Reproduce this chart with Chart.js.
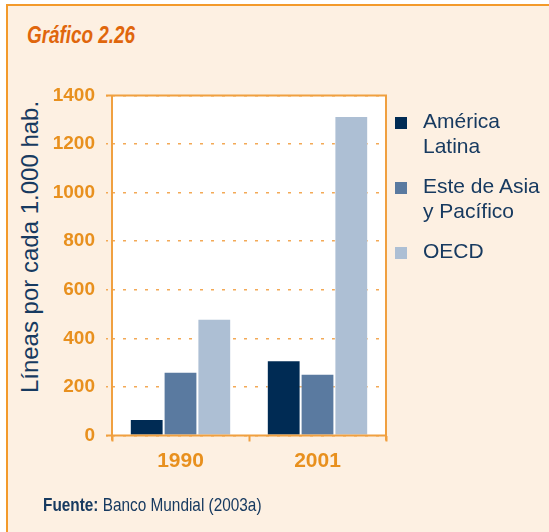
<!DOCTYPE html>
<html>
<head>
<meta charset="utf-8">
<script src="https://cdn.jsdelivr.net/npm/chart.js@4/dist/chart.umd.min.js"></script>
<style>
  html, body { margin: 0; padding: 0; background: #fff; }
  body { width: 549px; height: 532px; position: relative; overflow: hidden; font-family: "Liberation Sans", Arial, sans-serif; }
  #frame { position: absolute; left: 6px; top: 4px; right: 0; bottom: 0; background: #fdf0e2; border-left: 2px solid #f39a2b; border-top: 2px solid #f39a2b; }
  #title { position: absolute; left: 27px; top: 22px; font: italic bold 23px "Liberation Sans", Arial, sans-serif; color: #e0660c; transform: scaleX(0.82); transform-origin: left top; white-space: nowrap; }
  #ytitle { position: absolute; left: 30px; top: 247px; transform: translate(-50%, -50%) rotate(-90deg); white-space: nowrap; font-size: 24px; color: #173a60; }
  #chart { position: absolute; left: 0; top: 0; }
  #legend { position: absolute; left: 395px; top: 108px; }
  .item { position: relative; padding-left: 28px; margin-bottom: 15px; font-size: 21px; line-height: 25px; color: #173a60; white-space: pre-line; }
  .item span { position: absolute; left: 0; top: 9px; width: 12px; height: 12px; }
  #source { position: absolute; left: 43px; top: 494px; font: 18.5px "Liberation Sans", Arial, sans-serif; color: #173a60; transform: scaleX(0.83); transform-origin: left top; white-space: nowrap; }
</style>
</head>
<body>
<div id="frame"></div>
<div id="title">Gráfico 2.26</div>
<div id="ytitle">Líneas por cada 1.000 hab.</div>
<canvas id="chart" width="549" height="532"></canvas>
<div id="legend"></div>
<div id="source"><b>Fuente:</b> Banco Mundial (2003a)</div>
<script>
const years = ['1990', '2001'];
const americaLatina = [68, 310];
const asiaPacifico = [263, 254];
const oecd = [481, 1316];
const seriesNames = ['América\nLatina', 'Este de Asia\ny Pacífico', 'OECD'];
const seriesColors = ['#002b54', '#5a7aa0', '#adbfd4'];
const yTicks = [0, 200, 400, 600, 800, 1000, 1200, 1400];

const ORANGE = '#f0a040';

// white plot background + orange box around the plot
const plotFrame = {
  id: 'plotFrame',
  beforeDraw(chart) {
    const a = chart.chartArea, ctx = chart.ctx;
    ctx.save();
    ctx.fillStyle = '#fff';
    ctx.fillRect(a.left, a.top, a.right - a.left, a.bottom - a.top);
    ctx.restore();
  },
  afterDatasetsDraw(chart) {
    const a = chart.chartArea, ctx = chart.ctx;
    ctx.save();
    ctx.strokeStyle = ORANGE;
    ctx.lineWidth = 2;
    ctx.beginPath();
    ctx.moveTo(a.left - 6, a.top); ctx.lineTo(a.right, a.top); ctx.lineTo(a.right, a.bottom + 5);
    ctx.moveTo(a.left - 6, a.bottom); ctx.lineTo(a.right, a.bottom);
    ctx.moveTo(a.left, a.top); ctx.lineTo(a.left, a.bottom + 5);
    ctx.stroke();
    ctx.restore();
  }
};

const datasets = [americaLatina, asiaPacifico, oecd].map((d, i) => ({
  label: seriesNames[i],
  data: d,
  backgroundColor: seriesColors[i],
  borderColor: 'rgba(255,255,255,0.45)',
  borderWidth: 1,
  categoryPercentage: 0.74,
  barPercentage: 1.0,
}));

new Chart(document.getElementById('chart'), {
  type: 'bar',
  data: { labels: years, datasets },
  options: {
    responsive: false,
    animation: false,
    layout: { padding: { top: 95.5, right: 163, left: 0, bottom: 0 } },
    plugins: { legend: { display: false }, tooltip: { enabled: false } },
    scales: {
      x: {
        afterFit: s => { s.height = 96.5; },
        border: { display: false },
        grid: { offset: true, drawOnChartArea: false, drawTicks: true, tickLength: 6, tickColor: ORANGE, tickWidth: 2 },
        ticks: { color: '#e8901e', padding: 7, font: { family: '"Liberation Sans", Arial', size: 21, weight: 'bold' } },
      },
      y: {
        min: 0, max: 1400,
        afterFit: s => { s.width = 112; },
        afterBuildTicks: s => { s.ticks = yTicks.map(v => ({ value: v })); },
        border: { display: false, dash: [3, 8] },
        grid: { color: '#f3a956', lineWidth: 1.5, tickLength: 6, tickColor: '#f3a956', tickBorderDash: [2, 3] },
        ticks: { color: '#e8901e', padding: 11, callback: v => String(v), font: { family: '"Liberation Sans", Arial', size: 19, weight: 'bold' } },
      }
    }
  },
  plugins: [plotFrame]
});

const legend = document.getElementById('legend');
seriesNames.forEach((name, i) => {
  const div = document.createElement('div');
  div.className = 'item';
  div.textContent = name;
  const sw = document.createElement('span');
  sw.style.background = seriesColors[i];
  div.appendChild(sw);
  legend.appendChild(div);
});
</script>
</body>
</html>
